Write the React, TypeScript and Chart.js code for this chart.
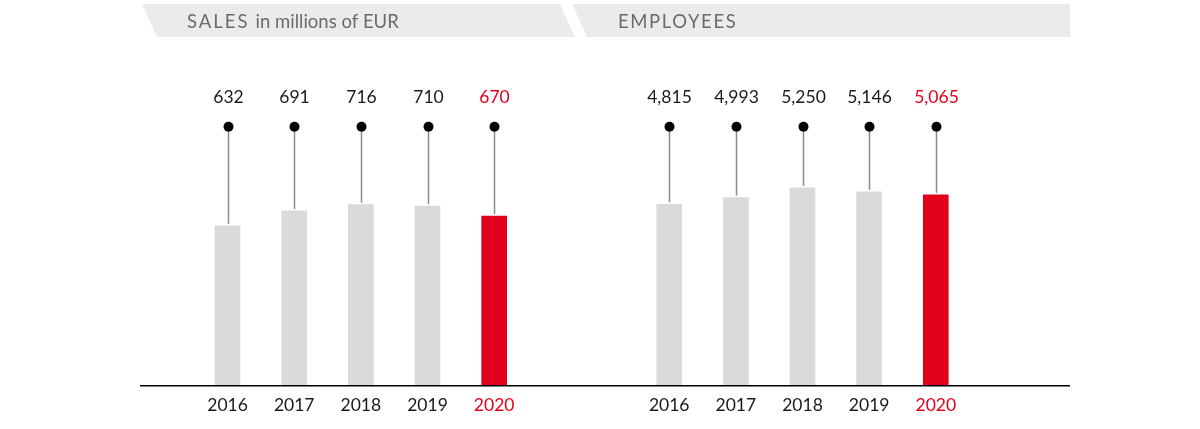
import React, { useEffect, useRef } from "react";
import { Chart, registerables } from "chart.js";

Chart.register(...registerables);

const years = ["2016", "2017", "2018", "2019", "2020"];
const salesValues = [632, 691, 716, 710, 670];
const employeeValues = [4815, 4993, 5250, 5146, 5065];
const salesTitleMain = "SALES";
const salesTitleSub = "in millions of EUR";
const employeesTitle = "EMPLOYEES";

const FONT = "Lato, 'Open Sans', sans-serif";
const RED = "#e2001a";
const GREY_BAR = "#dadada";
const TEXT = "#1a1a1a";
const BANNER = "#ebebeb";
const BANNER_TEXT = "#6b6b6b";

const W = 1200;
const H = 429;

function drawBanner(ctx: CanvasRenderingContext2D, pts: number[][]) {
  ctx.save();
  ctx.fillStyle = BANNER;
  ctx.beginPath();
  ctx.moveTo(pts[0][0], pts[0][1]);
  for (let i = 1; i < pts.length; i++) ctx.lineTo(pts[i][0], pts[i][1]);
  ctx.closePath();
  ctx.fill();
  ctx.restore();
}

function lollipopPlugin(id: string) {
  return {
    id,
    afterDatasetsDraw(chart: any) {
      const ctx = chart.ctx as CanvasRenderingContext2D;
      const meta = chart.getDatasetMeta(0);
      const data = chart.data.datasets[0].data as number[];
      ctx.save();
      meta.data.forEach((el: any, i: number) => {
        const x = Math.round(el.x) + 0.5;
        const top = el.y;
        ctx.strokeStyle = "#8a8a8a";
        ctx.lineWidth = 1.5;
        ctx.beginPath();
        ctx.moveTo(x, 131);
        ctx.lineTo(x, top - 2);
        ctx.stroke();
        ctx.fillStyle = "#000";
        ctx.beginPath();
        ctx.arc(x, 126.7, 5, 0, Math.PI * 2);
        ctx.fill();
        ctx.fillStyle = i === data.length - 1 ? RED : TEXT;
        ctx.font = `400 17.5px ${FONT}`;
        ctx.textAlign = "center";
        ctx.textBaseline = "alphabetic";
        ctx.fillText(data[i].toLocaleString("en-US"), x, 102.7);
      });
      ctx.restore();
    },
  };
}

const leftDecor = {
  id: "leftDecor",
  beforeDraw(chart: any) {
    const ctx = chart.ctx as CanvasRenderingContext2D;
    drawBanner(ctx, [
      [142, 4],
      [560, 4],
      [575, 37],
      [157, 37],
    ]);
    ctx.save();
    ctx.fillStyle = BANNER_TEXT;
    ctx.textBaseline = "alphabetic";
    ctx.textAlign = "left";
    ctx.font = `400 18.5px ${FONT}`;
    (ctx as any).letterSpacing = "2px";
    ctx.fillText(salesTitleMain, 187, 28.3);
    const w = ctx.measureText(salesTitleMain).width;
    (ctx as any).letterSpacing = "0px";
    ctx.fillText(salesTitleSub, 187 + w + 6, 28.3);
    ctx.restore();
  },
  afterDraw(chart: any) {
    const ctx = chart.ctx as CanvasRenderingContext2D;
    ctx.save();
    ctx.strokeStyle = "#000";
    ctx.lineWidth = 1.5;
    ctx.beginPath();
    ctx.moveTo(140, chart.chartArea.bottom + 0.75);
    ctx.lineTo(1070, chart.chartArea.bottom + 0.75);
    ctx.stroke();
    ctx.restore();
  },
};

const rightDecor = {
  id: "rightDecor",
  beforeDraw(chart: any) {
    const ctx = chart.ctx as CanvasRenderingContext2D;
    drawBanner(ctx, [
      [572, 4],
      [1070, 4],
      [1070, 37],
      [587, 37],
    ]);
    ctx.save();
    ctx.fillStyle = BANNER_TEXT;
    ctx.textBaseline = "alphabetic";
    ctx.textAlign = "left";
    ctx.font = `400 18.5px ${FONT}`;
    (ctx as any).letterSpacing = "1.6px";
    ctx.fillText(employeesTitle, 618, 28.3);
    ctx.restore();
  },
};

function makeConfig(values: number[], max: number, padLeft: number, padRight: number, plugins: any[]) {
  return {
    type: "bar" as const,
    data: {
      labels: years,
      datasets: [
        {
          data: values,
          backgroundColor: values.map((_, i) => (i === values.length - 1 ? RED : GREY_BAR)),
          barThickness: 25,
          borderWidth: 0,
        },
      ],
    },
    options: {
      responsive: false,
      animation: false as const,
      events: [],
      layout: { padding: { left: padLeft, right: padRight, top: 60, bottom: 4 } },
      plugins: { legend: { display: false }, tooltip: { enabled: false }, title: { display: false } },
      scales: {
        x: {
          type: "category" as const,
          grid: { display: false, drawTicks: false },
          border: { display: false },
          ticks: {
            padding: 9.5,
            font: { family: FONT, size: 17.5 },
            color: (c: any) => (c.index === years.length - 1 ? RED : TEXT),
          },
        },
        y: { display: false, min: 0, max },
      },
    },
    plugins,
  };
}

export default function App() {
  const leftRef = useRef<HTMLCanvasElement>(null);
  const rightRef = useRef<HTMLCanvasElement>(null);

  useEffect(() => {
    const a = new Chart(
      leftRef.current!,
      makeConfig(salesValues, 1290, 194.2, 672.5, [leftDecor, lollipopPlugin("lolA")]) as any
    );
    const b = new Chart(
      rightRef.current!,
      makeConfig(employeeValues, 8657, 635.9, 230.9, [rightDecor, lollipopPlugin("lolB")]) as any
    );
    return () => {
      a.destroy();
      b.destroy();
    };
  }, []);

  const cStyle: React.CSSProperties = { position: "absolute", left: 0, top: 0, display: "block" };
  return (
    <div style={{ position: "absolute", left: 0, top: 0, width: W, height: H, background: "#fff" }}>
      <canvas ref={leftRef} width={W} height={H} style={cStyle} />
      <canvas ref={rightRef} width={W} height={H} style={cStyle} />
    </div>
  );
}
